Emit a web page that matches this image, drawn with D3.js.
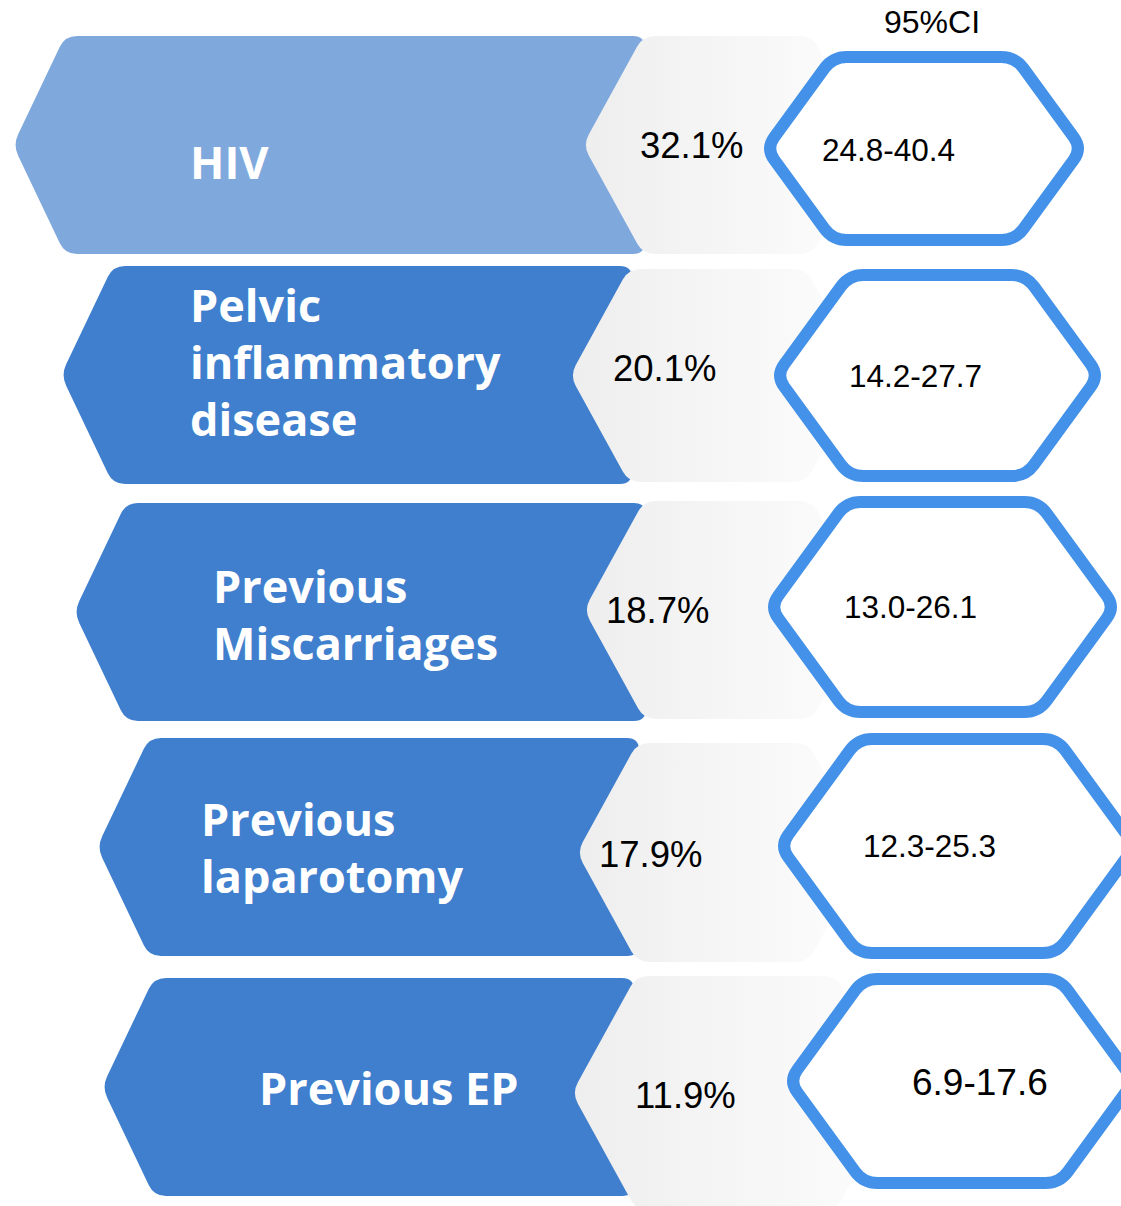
<!DOCTYPE html>
<html>
<head>
<meta charset="utf-8">
<script src="https://cdn.jsdelivr.net/npm/d3@7"></script>
<style>
  html, body { margin: 0; padding: 0; background: #fff; }
  svg { display: block; }
</style>
</head>
<body>
<div id="chart"></div>
<script>
// Data
const categories = ["HIV", "Pelvic inflammatory disease", "Previous Miscarriages", "Previous laparotomy", "Previous EP"];
const labelLines = [["HIV"], ["Pelvic", "inflammatory", "disease"], ["Previous", "Miscarriages"], ["Previous", "laparotomy"], ["Previous EP"]];
const prevalence = [32.1, 20.1, 18.7, 17.9, 11.9];
const ciLow = [24.8, 14.2, 13.0, 12.3, 6.9];
const ciHigh = [40.4, 27.7, 26.1, 25.3, 17.6];
const ciTitle = "95%CI";

// Layout (hand-placed shapes of the infographic, per row)
const yNudge = [0, -5.5, -4, -4.5, 0];
const blueX = [13, 61, 74, 97, 102];
const greyX = [583, 570, 584, 577, 572];
const greyTR = [812, 806, 812, 808, 836];
const greyTop = [0, 3, -2, 5, -2];
const greyBot = [218, 216, 216, 224, 232];
const hexX = [766, 776, 770, 780, 789];
const hexW = [316, 323, 345, 355, 345];
const hexTop = [21, 9, -1, 1, 1];
const hexBot = [204, 210, 209, 215, 205];
const labelX = [190, 190, 213, 201, 259];
const labelDy = [17, -13, 2, 1, 1];
const pctX = [640, 613, 606, 599, 635];
const pctDy = [13, 6, 11, 20, 21];
const ciX = [822, 849, 844, 863, 912];
const ciDy = [16, 12, 6, 10, 8];
const ciSize = [31.5, 31.5, 31.5, 31.5, 37];

const width = 1121, height = 1206;
const svg = d3.select("#chart").append("svg")
  .attr("width", width)
  .attr("height", height);

const defs = svg.append("defs");
const grad = defs.append("linearGradient")
  .attr("id", "greyFade")
  .attr("x1", "0%").attr("x2", "100%").attr("y1", "0%").attr("y2", "0%");
grad.append("stop").attr("offset", "0%").attr("stop-color", "#eeeeee");
grad.append("stop").attr("offset", "100%").attr("stop-color", "#fdfdfd");

const y = d3.scaleBand()
  .domain(d3.range(categories.length))
  .range([36, 1196])
  .paddingInner(0.0743);
const h = y.bandwidth();

// polygon with rounded corners
function roundedPath(pts, r) {
  const p = d3.path();
  const n = pts.length;
  for (let i = 0; i < n; i++) {
    const prev = pts[(i - 1 + n) % n], cur = pts[i], next = pts[(i + 1) % n];
    const d1 = Math.hypot(prev[0] - cur[0], prev[1] - cur[1]);
    const d2 = Math.hypot(next[0] - cur[0], next[1] - cur[1]);
    const r1 = Math.min(r, d1 / 2), r2 = Math.min(r, d2 / 2);
    const a = [cur[0] + (prev[0] - cur[0]) * r1 / d1, cur[1] + (prev[1] - cur[1]) * r1 / d1];
    const b = [cur[0] + (next[0] - cur[0]) * r2 / d2, cur[1] + (next[1] - cur[1]) * r2 / d2];
    if (i === 0) p.moveTo(a[0], a[1]); else p.lineTo(a[0], a[1]);
    p.quadraticCurveTo(cur[0], cur[1], b[0], b[1]);
  }
  p.closePath();
  return p.toString();
}

const rows = svg.selectAll("g.row")
  .data(categories)
  .join("g")
  .attr("class", "row");

rows.each(function(cat, i) {
  const g = d3.select(this);
  const top = y(i) + yNudge[i];
  const mid = top + h / 2;

  // blue label block
  const bx = blueX[i];
  const bRight = greyX[i] + 62;
  g.append("path")
    .attr("d", roundedPath([
      [bx, mid], [bx + 52, top], [bRight, top], [bRight, top + h], [bx + 52, top + h]
    ], 12))
    .attr("fill", i === 0 ? "#7fa9dd" : "#3f7fcd");

  // grey chevron
  const gx = greyX[i];
  const gt = top + greyTop[i], gb = top + greyBot[i];
  const gm = (gt + gb) / 2;
  const gs = (gm - gt) * 0.55;
  g.append("path")
    .attr("d", roundedPath([
      [gx, gm], [gx + gs, gt], [greyTR[i], gt], [greyTR[i] + gs, gm], [greyTR[i], gb], [gx + gs, gb]
    ], 12))
    .attr("fill", "url(#greyFade)");

  // hexagon for the CI
  const hx = hexX[i];
  const ht = top + hexTop[i], hb = top + hexBot[i];
  const hm = (ht + hb) / 2;
  const hs = (hm - ht) * 0.73;
  const hr = hx + hexW[i];
  g.append("path")
    .attr("d", roundedPath([
      [hx, hm], [hx + hs, ht], [hr - hs, ht], [hr, hm], [hr - hs, hb], [hx + hs, hb]
    ], 14))
    .attr("fill", "#ffffff")
    .attr("stroke", "#4391e8")
    .attr("stroke-width", 12)
    .attr("stroke-linejoin", "round");

  // label
  const lines = labelLines[i];
  const lh = 57;
  const firstBase = mid - (lines.length - 1) * lh / 2 + 17 + labelDy[i];
  const lbl = g.append("text")
    .attr("x", labelX[i])
    .attr("y", firstBase)
    .attr("fill", "#ffffff")
    .style("font-family", "'Open Sans', 'Noto Sans', sans-serif")
    .style("font-weight", 700)
    .style("font-size", "45px");
  lbl.selectAll("tspan")
    .data(lines)
    .join("tspan")
    .attr("x", labelX[i])
    .attr("dy", (d, k) => k === 0 ? 0 : lh)
    .text(d => d);

  // prevalence
  g.append("text")
    .attr("x", pctX[i])
    .attr("y", mid + pctDy[i])
    .attr("fill", "#000")
    .style("font-family", "'Liberation Sans', Arial, sans-serif")
    .style("font-size", "36.5px")
    .text(d3.format(".1f")(prevalence[i]) + "%");

  // CI
  g.append("text")
    .attr("x", ciX[i])
    .attr("y", mid + ciDy[i])
    .attr("fill", "#000")
    .style("font-family", "'Liberation Sans', Arial, sans-serif")
    .style("font-size", ciSize[i] + "px")
    .text(d3.format(".1f")(ciLow[i]) + "-" + d3.format(".1f")(ciHigh[i]));
});

svg.append("text")
  .attr("x", 884)
  .attr("y", 33)
  .attr("fill", "#000")
  .style("font-family", "'Liberation Sans', Arial, sans-serif")
  .style("font-size", "32px")
  .text(ciTitle);
</script>
</body>
</html>
